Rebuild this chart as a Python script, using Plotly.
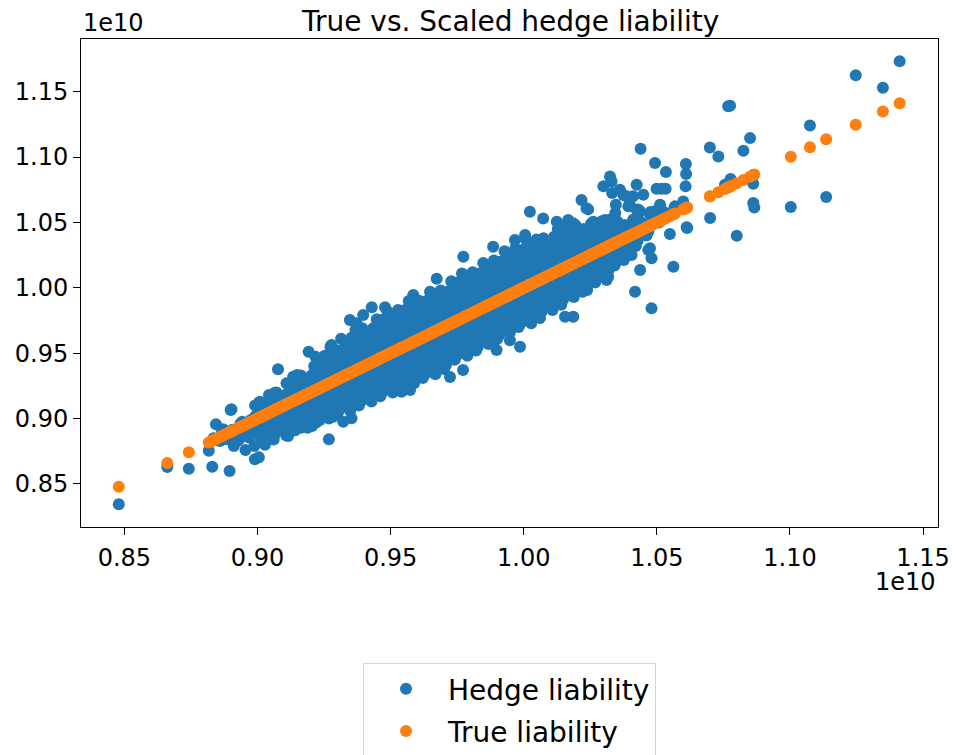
import plotly.graph_objects as go

# values are in units of 1e10 (true liability, hedge liability)
left_band = [
    (0.8835, 0.8850), (0.8858, 0.8828), (0.8866, 0.8890), (0.8888, 0.8842), (0.8906, 0.8915),
    (0.8898, 0.8870), (0.8928, 0.8832), (0.8946, 0.8905), (0.8936, 0.8960), (0.8950, 0.8865),
    (0.8968, 0.8855), (0.8980, 0.8925), (0.8975, 0.8990),
]

dense_band = [
    (0.8988, 0.879), (0.9006, 0.887), (0.8996, 0.895), (0.9011, 0.903), (0.8991, 0.910),
    (0.9028, 0.880), (0.9046, 0.888), (0.9036, 0.896), (0.9051, 0.904), (0.9031, 0.912), (0.9043, 0.918),
    (0.9068, 0.889), (0.9086, 0.897), (0.9076, 0.905), (0.9091, 0.913), (0.9071, 0.920),
    (0.9108, 0.887), (0.9126, 0.895), (0.9116, 0.903), (0.9131, 0.911), (0.9111, 0.919), (0.9123, 0.927),
    (0.9148, 0.894), (0.9166, 0.902), (0.9156, 0.910), (0.9171, 0.918), (0.9151, 0.926), (0.9163, 0.933),
    (0.9188, 0.893), (0.9206, 0.901), (0.9196, 0.909), (0.9211, 0.917), (0.9191, 0.925), (0.9203, 0.933), (0.9213, 0.940),
    (0.9228, 0.901), (0.9246, 0.909), (0.9236, 0.917), (0.9251, 0.925), (0.9231, 0.933), (0.9243, 0.941), (0.9253, 0.948),
    (0.9268, 0.900), (0.9286, 0.908), (0.9276, 0.916), (0.9291, 0.924), (0.9271, 0.932), (0.9283, 0.940), (0.9293, 0.948), (0.9274, 0.955),
    (0.9308, 0.907), (0.9326, 0.915), (0.9316, 0.923), (0.9331, 0.931), (0.9311, 0.939), (0.9323, 0.947), (0.9333, 0.955), (0.9314, 0.961),
    (0.9348, 0.906), (0.9366, 0.914), (0.9356, 0.922), (0.9371, 0.930), (0.9351, 0.938), (0.9363, 0.946), (0.9373, 0.954), (0.9354, 0.962), (0.9368, 0.968),
    (0.9388, 0.913), (0.9406, 0.921), (0.9396, 0.929), (0.9411, 0.937), (0.9391, 0.945), (0.9403, 0.953), (0.9413, 0.961), (0.9394, 0.969),
    (0.9428, 0.913), (0.9446, 0.921), (0.9436, 0.929), (0.9451, 0.937), (0.9431, 0.945), (0.9443, 0.953), (0.9453, 0.961), (0.9434, 0.969), (0.9448, 0.976),
    (0.9468, 0.920), (0.9486, 0.928), (0.9476, 0.936), (0.9491, 0.944), (0.9471, 0.952), (0.9483, 0.960), (0.9493, 0.968), (0.9474, 0.976), (0.9488, 0.982),
    (0.9508, 0.920), (0.9526, 0.928), (0.9516, 0.936), (0.9531, 0.944), (0.9511, 0.952), (0.9523, 0.960), (0.9533, 0.968), (0.9514, 0.976), (0.9528, 0.983),
    (0.9548, 0.927), (0.9566, 0.935), (0.9556, 0.943), (0.9571, 0.951), (0.9551, 0.959), (0.9563, 0.967), (0.9573, 0.975), (0.9554, 0.983), (0.9568, 0.990),
    (0.9588, 0.927), (0.9606, 0.935), (0.9596, 0.943), (0.9611, 0.951), (0.9591, 0.959), (0.9603, 0.967), (0.9613, 0.975), (0.9594, 0.983), (0.9608, 0.990),
    (0.9628, 0.934), (0.9646, 0.942), (0.9636, 0.950), (0.9651, 0.958), (0.9631, 0.966), (0.9643, 0.974), (0.9653, 0.982), (0.9634, 0.990), (0.9648, 0.997),
    (0.9668, 0.934), (0.9686, 0.942), (0.9676, 0.950), (0.9691, 0.958), (0.9671, 0.966), (0.9683, 0.974), (0.9693, 0.982), (0.9674, 0.990), (0.9688, 0.998),
    (0.9708, 0.941), (0.9726, 0.949), (0.9716, 0.957), (0.9731, 0.965), (0.9711, 0.973), (0.9723, 0.981), (0.9733, 0.989), (0.9714, 0.997), (0.9728, 1.005),
    (0.9748, 0.948), (0.9766, 0.956), (0.9756, 0.964), (0.9771, 0.972), (0.9751, 0.980), (0.9763, 0.988), (0.9773, 0.996), (0.9754, 1.004), (0.9768, 1.011),
    (0.9788, 0.948), (0.9806, 0.956), (0.9796, 0.964), (0.9811, 0.972), (0.9791, 0.980), (0.9803, 0.988), (0.9813, 0.996), (0.9794, 1.004), (0.9808, 1.012),
    (0.9828, 0.955), (0.9846, 0.963), (0.9836, 0.971), (0.9851, 0.979), (0.9831, 0.987), (0.9843, 0.995), (0.9853, 1.003), (0.9834, 1.011), (0.9848, 1.019),
    (0.9868, 0.957), (0.9886, 0.965), (0.9876, 0.973), (0.9891, 0.981), (0.9871, 0.989), (0.9883, 0.997), (0.9893, 1.005), (0.9874, 1.013), (0.9888, 1.021),
    (0.9908, 0.964), (0.9926, 0.972), (0.9916, 0.980), (0.9931, 0.988), (0.9911, 0.996), (0.9923, 1.004), (0.9933, 1.012), (0.9914, 1.020), (0.9928, 1.028),
    (0.9948, 0.966), (0.9966, 0.974), (0.9956, 0.982), (0.9971, 0.990), (0.9951, 0.998), (0.9963, 1.006), (0.9973, 1.014), (0.9954, 1.022), (0.9968, 1.030),
    (0.9988, 0.973), (1.0006, 0.981), (0.9996, 0.989), (1.0011, 0.997), (0.9991, 1.005), (1.0003, 1.013), (1.0013, 1.021), (0.9994, 1.029), (1.0008, 1.037),
    (1.0028, 0.973), (1.0046, 0.981), (1.0036, 0.989), (1.0051, 0.997), (1.0031, 1.005), (1.0043, 1.013), (1.0053, 1.021), (1.0034, 1.029), (1.0048, 1.037),
    (1.0068, 0.982), (1.0086, 0.990), (1.0076, 0.998), (1.0091, 1.006), (1.0071, 1.014), (1.0083, 1.022), (1.0093, 1.030), (1.0074, 1.038),
    (1.0108, 0.983), (1.0126, 0.991), (1.0116, 0.999), (1.0131, 1.007), (1.0111, 1.015), (1.0123, 1.023), (1.0133, 1.031), (1.0114, 1.039), (1.0128, 1.045),
    (1.0148, 0.991), (1.0166, 0.999), (1.0156, 1.007), (1.0171, 1.015), (1.0151, 1.023), (1.0163, 1.031), (1.0173, 1.039), (1.0154, 1.046),
    (1.0188, 0.993), (1.0206, 1.001), (1.0196, 1.009), (1.0211, 1.017), (1.0191, 1.025), (1.0203, 1.033), (1.0213, 1.041), (1.0194, 1.048),
    (1.0228, 1.002), (1.0246, 1.010), (1.0236, 1.018), (1.0251, 1.026), (1.0231, 1.034), (1.0243, 1.042), (1.0253, 1.049),
    (1.0268, 1.004), (1.0286, 1.012), (1.0276, 1.020), (1.0291, 1.028), (1.0271, 1.036), (1.0283, 1.044), (1.0293, 1.051),
    (1.0308, 1.013), (1.0326, 1.021), (1.0316, 1.029), (1.0331, 1.037), (1.0311, 1.045), (1.0323, 1.052),
    (1.0348, 1.020), (1.0366, 1.028), (1.0356, 1.036), (1.0371, 1.044), (1.0351, 1.051),
    (1.0388, 1.028), (1.0406, 1.036), (1.0396, 1.044), (1.0411, 1.051),
    (1.0428, 1.036), (1.0446, 1.044), (1.0436, 1.051),
    (1.0468, 1.043), (1.0486, 1.051), (1.0476, 1.058),
    (1.0508, 1.050), (1.0526, 1.058),
    (1.0548, 1.056), (1.0566, 1.061),
    (1.0605, 1.062),
]

dense_fill = [
    (0.9021, 0.883), (0.9019, 0.891), (0.9023, 0.899), (0.9018, 0.907),
    (0.9061, 0.884), (0.9058, 0.892), (0.9063, 0.900), (0.9059, 0.908), (0.9062, 0.916),
    (0.9101, 0.893), (0.9098, 0.901), (0.9103, 0.909), (0.9099, 0.917),
    (0.9141, 0.891), (0.9138, 0.899), (0.9143, 0.907), (0.9139, 0.915), (0.9142, 0.923),
    (0.9181, 0.898), (0.9178, 0.906), (0.9183, 0.914), (0.9179, 0.922), (0.9182, 0.930),
    (0.9221, 0.897), (0.9218, 0.905), (0.9223, 0.913), (0.9219, 0.921), (0.9222, 0.929), (0.9220, 0.937),
    (0.9261, 0.905), (0.9258, 0.913), (0.9263, 0.921), (0.9259, 0.929), (0.9262, 0.937), (0.9260, 0.945),
    (0.9301, 0.904), (0.9298, 0.912), (0.9303, 0.920), (0.9299, 0.928), (0.9302, 0.936), (0.9300, 0.944), (0.9304, 0.952),
    (0.9341, 0.911), (0.9338, 0.919), (0.9343, 0.927), (0.9339, 0.935), (0.9342, 0.943), (0.9340, 0.951), (0.9344, 0.959),
    (0.9381, 0.910), (0.9378, 0.918), (0.9383, 0.926), (0.9379, 0.934), (0.9382, 0.942), (0.9380, 0.950), (0.9384, 0.958), (0.9379, 0.966),
    (0.9421, 0.917), (0.9418, 0.925), (0.9423, 0.933), (0.9419, 0.941), (0.9422, 0.949), (0.9420, 0.957), (0.9424, 0.965),
    (0.9461, 0.917), (0.9458, 0.925), (0.9463, 0.933), (0.9459, 0.941), (0.9462, 0.949), (0.9460, 0.957), (0.9464, 0.965), (0.9459, 0.973),
    (0.9501, 0.924), (0.9498, 0.932), (0.9503, 0.940), (0.9499, 0.948), (0.9502, 0.956), (0.9500, 0.964), (0.9504, 0.972), (0.9499, 0.980),
    (0.9541, 0.924), (0.9538, 0.932), (0.9543, 0.940), (0.9539, 0.948), (0.9542, 0.956), (0.9540, 0.964), (0.9544, 0.972), (0.9539, 0.980),
    (0.9581, 0.931), (0.9578, 0.939), (0.9583, 0.947), (0.9579, 0.955), (0.9582, 0.963), (0.9580, 0.971), (0.9584, 0.979), (0.9579, 0.987),
    (0.9621, 0.931), (0.9618, 0.939), (0.9623, 0.947), (0.9619, 0.955), (0.9622, 0.963), (0.9620, 0.971), (0.9624, 0.979), (0.9619, 0.987),
    (0.9661, 0.938), (0.9658, 0.946), (0.9663, 0.954), (0.9659, 0.962), (0.9662, 0.970), (0.9660, 0.978), (0.9664, 0.986), (0.9659, 0.994),
    (0.9701, 0.938), (0.9698, 0.946), (0.9703, 0.954), (0.9699, 0.962), (0.9702, 0.970), (0.9700, 0.978), (0.9704, 0.986), (0.9699, 0.994),
    (0.9741, 0.945), (0.9738, 0.953), (0.9743, 0.961), (0.9739, 0.969), (0.9742, 0.977), (0.9740, 0.985), (0.9744, 0.993), (0.9739, 1.001),
    (0.9781, 0.952), (0.9778, 0.960), (0.9783, 0.968), (0.9779, 0.976), (0.9782, 0.984), (0.9780, 0.992), (0.9784, 1.000), (0.9779, 1.008),
    (0.9821, 0.952), (0.9818, 0.960), (0.9823, 0.968), (0.9819, 0.976), (0.9822, 0.984), (0.9820, 0.992), (0.9824, 1.000), (0.9819, 1.008),
    (0.9861, 0.959), (0.9858, 0.967), (0.9863, 0.975), (0.9859, 0.983), (0.9862, 0.991), (0.9860, 0.999), (0.9864, 1.007), (0.9859, 1.015),
    (0.9901, 0.961), (0.9898, 0.969), (0.9903, 0.977), (0.9899, 0.985), (0.9902, 0.993), (0.9900, 1.001), (0.9904, 1.009), (0.9899, 1.017),
    (0.9941, 0.968), (0.9938, 0.976), (0.9943, 0.984), (0.9939, 0.992), (0.9942, 1.000), (0.9940, 1.008), (0.9944, 1.016), (0.9939, 1.024),
    (0.9981, 0.970), (0.9978, 0.978), (0.9983, 0.986), (0.9979, 0.994), (0.9982, 1.002), (0.9980, 1.010), (0.9984, 1.018), (0.9979, 1.026),
    (1.0021, 0.977), (1.0018, 0.985), (1.0023, 0.993), (1.0019, 1.001), (1.0022, 1.009), (1.0020, 1.017), (1.0024, 1.025), (1.0019, 1.033),
    (1.0061, 0.977), (1.0058, 0.985), (1.0063, 0.993), (1.0059, 1.001), (1.0062, 1.009), (1.0060, 1.017), (1.0064, 1.025), (1.0059, 1.033),
    (1.0101, 0.986), (1.0098, 0.994), (1.0103, 1.002), (1.0099, 1.010), (1.0102, 1.018), (1.0100, 1.026), (1.0104, 1.034),
    (1.0141, 0.987), (1.0138, 0.995), (1.0143, 1.003), (1.0139, 1.011), (1.0142, 1.019), (1.0140, 1.027), (1.0144, 1.035), (1.0139, 1.042),
    (1.0181, 0.995), (1.0178, 1.003), (1.0183, 1.011), (1.0179, 1.019), (1.0182, 1.027), (1.0180, 1.035), (1.0184, 1.043),
    (1.0221, 0.997), (1.0218, 1.005), (1.0223, 1.013), (1.0219, 1.021), (1.0222, 1.029), (1.0220, 1.037), (1.0224, 1.045),
    (1.0261, 1.006), (1.0258, 1.014), (1.0263, 1.022), (1.0259, 1.030), (1.0262, 1.038), (1.0260, 1.046),
    (1.0301, 1.008), (1.0298, 1.016), (1.0303, 1.024), (1.0299, 1.032), (1.0302, 1.040), (1.0300, 1.048),
    (1.0341, 1.017), (1.0338, 1.025), (1.0343, 1.033), (1.0339, 1.041), (1.0342, 1.049),
    (1.0381, 1.024), (1.0378, 1.032), (1.0383, 1.040), (1.0379, 1.048),
    (1.0421, 1.032), (1.0418, 1.040), (1.0423, 1.048),
    (1.0461, 1.040), (1.0458, 1.048),
]

upper_spread = [
    (0.8844, 0.8956), (0.8871, 0.8918), (0.8899, 0.9066), (0.8902, 0.9072), (0.8943, 0.8976),
    (0.8993, 0.9020), (0.9005, 0.9122), (0.9009, 0.9129), (0.9065, 0.9198), (0.9077, 0.9377),
    (0.9109, 0.9270), (0.9134, 0.9320), (0.9149, 0.9333), (0.9192, 0.9511), (0.9209, 0.9333),
    (0.9218, 0.9473), (0.9234, 0.9397), (0.9260, 0.9423), (0.9278, 0.9563), (0.9295, 0.9494),
    (0.9328, 0.9588), (0.9385, 0.9588), (0.9347, 0.9754), (0.9372, 0.9729), (0.9397, 0.9792),
    (0.9429, 0.9851), (0.9479, 0.9851), (0.9585, 0.9945), (0.9598, 0.9907), (0.9673, 1.0070),
    (0.9729, 1.0047), (0.9786, 1.0085), (0.9773, 1.0238), (0.9885, 1.0314), (0.9967, 1.0365),
    (1.0005, 1.0404), (1.0023, 1.0582), (1.0073, 1.0531), (1.0124, 1.0505), (1.0167, 1.0518),
    (1.0186, 1.0493), (1.0217, 1.0671), (1.0236, 1.0608), (1.0242, 1.0600), (1.0261, 1.0505),
    (1.0305, 1.0518), (1.0299, 1.0776), (1.0324, 1.0852), (1.0330, 1.0814), (1.0332, 1.0725),
    (1.0361, 1.0750), (1.0386, 1.0700), (1.0411, 1.0700), (1.0424, 1.0788), (1.0439, 1.1063),
    (1.0449, 1.0712), (1.0493, 1.0954), (1.0534, 1.0885), (1.0499, 1.0758), (1.0518, 1.0758),
    (1.0533, 1.0758), (1.0346, 1.0635), (1.0344, 1.0572), (1.0374, 1.0710), (1.0393, 1.0623),
    (1.0399, 1.0633), (1.0424, 1.0597), (1.0430, 1.0600), (1.0437, 1.0585), (1.0411, 1.0521),
    (1.0474, 1.0559), (1.0493, 1.0585), (1.0512, 1.0635), (1.0568, 1.0623), (1.0599, 1.0661),
    (1.0609, 1.0947), (1.0610, 1.0870), (1.0608, 1.0776), (1.0300, 1.0500), (1.0320, 1.0480),
    (1.0350, 1.0470),
]

lower_spread = [
    (0.8817, 0.8755), (0.8830, 0.8632), (0.8874, 0.8844), (0.8895, 0.8600), (0.8911, 0.8790),
    (0.8931, 0.8888), (0.8955, 0.8760), (0.8990, 0.8689), (0.9005, 0.8704), (0.9034, 0.8964),
    (0.9042, 0.8849), (0.9059, 0.8913), (0.9084, 0.8913), (0.9109, 0.8938), (0.9115, 0.8867),
    (0.9134, 0.8989), (0.9163, 0.8930), (0.9205, 0.8943), (0.9234, 0.8989), (0.9260, 0.9040),
    (0.9268, 0.8842), (0.9284, 0.9015), (0.9322, 0.8976), (0.9353, 0.9002), (0.9441, 0.9180),
    (0.9541, 0.9206), (0.9573, 0.9219), (0.9622, 0.9372), (0.9654, 0.9372), (0.9723, 0.9318),
    (0.9772, 0.9372), (0.9748, 0.9550), (0.9885, 0.9576), (0.9885, 0.9664), (0.9898, 0.9524),
    (0.9948, 0.9600), (0.9948, 0.9677), (0.9986, 0.9550), (1.0155, 0.9779), (1.0186, 0.9779),
    (1.0199, 0.9970), (1.0230, 0.9983), (1.0236, 1.0060), (1.0238, 0.9983), (1.0280, 1.0111),
    (1.0286, 1.0123), (1.0311, 1.0060), (1.0317, 1.0085), (1.0319, 1.0136), (1.0336, 1.0226),
    (1.0374, 1.0226), (1.0376, 1.0213), (1.0405, 1.0251), (1.0468, 1.0289), (1.0474, 1.0302),
    (1.0480, 1.0226), (1.0437, 1.0136), (1.0418, 0.9970), (1.0480, 0.9843), (1.0549, 1.0411),
    (1.0562, 1.0161), (1.0612, 1.0463), (1.0614, 1.0457),
]

tail_points = [
    (0.8479, 0.8345), (0.8661, 0.8630), (0.8742, 0.8617),
    (1.0699, 1.1073), (1.0700, 1.0534), (1.0731, 1.1005), (1.0756, 1.0788), (1.0768, 1.1388),
    (1.0775, 1.1392), (1.0777, 1.0832), (1.0800, 1.0398), (1.0825, 1.1048), (1.0850, 1.1145),
    (1.0862, 1.0796), (1.0862, 1.0648), (1.0866, 1.0615),
    (1.1003, 1.0618), (1.1075, 1.1242), (1.1136, 1.0694), (1.1247, 1.1625), (1.1349, 1.1530),
    (1.1412, 1.1732),
]

samples = left_band + dense_band + dense_fill + upper_spread + lower_spread + tail_points
true_liability = [p[0] for p in samples]
hedge_liability = [p[1] for p in samples]

tick_values = [0.85, 0.90, 0.95, 1.00, 1.05, 1.10, 1.15]
tick_labels = ["0.85", "0.90", "0.95", "1.00", "1.05", "1.10", "1.15"]

FONT = "DejaVu Sans"
BLUE = "#1f77b4"
ORANGE = "#ff7f0e"

fig = go.Figure()
fig.add_trace(go.Scatter(
    x=true_liability, y=hedge_liability, mode="markers", name="Hedge liability",
    legendgroup="hedge",
    marker=dict(color=BLUE, size=12, line=dict(width=0)),
))
fig.add_trace(go.Scatter(
    x=true_liability, y=true_liability, mode="markers", name="True liability",
    legendgroup="true",
    marker=dict(color=ORANGE, size=12, line=dict(width=0)),
))

axis_common = dict(
    showline=True, linecolor="black", linewidth=1, mirror=True,
    ticks="outside", ticklen=7, tickwidth=1, tickcolor="black",
    showgrid=False, zeroline=False, automargin=False,
    tickfont=dict(family=FONT, size=24, color="black"),
    tickvals=tick_values, ticktext=tick_labels,
)

fig.update_layout(
    width=957, height=755, autosize=False,
    margin=dict(l=81, r=19, t=39, b=228, autoexpand=False),
    paper_bgcolor="white", plot_bgcolor="white",
    font=dict(family=FONT, color="black"),
    xaxis=dict(range=[0.8337, 1.1556], ticklabelstandoff=2, **axis_common),
    yaxis=dict(range=[0.8171, 1.1903], **axis_common),
    showlegend=True,
    legend=dict(
        x=0.5, xanchor="center", y=-0.2787, yanchor="top",
        font=dict(family=FONT, size=28, color="black"),
        bordercolor="#d6d6d6", borderwidth=1, bgcolor="white",
        itemwidth=74, traceorder="grouped", tracegroupgap=3,
    ),
    annotations=[
        dict(text="True vs. Scaled hedge liability", xref="paper", yref="paper",
             x=0.5, y=1, xanchor="center", yanchor="bottom", yshift=-1,
             showarrow=False, font=dict(family=FONT, size=28, color="black")),
        dict(text="1e10", xref="paper", yref="paper", x=0, y=1,
             xanchor="left", yanchor="bottom", showarrow=False,
             font=dict(family=FONT, size=24, color="black")),
        dict(text="1e10", xref="paper", yref="paper", x=1, y=-0.08,
             xanchor="right", yanchor="top", showarrow=False,
             font=dict(family=FONT, size=24, color="black")),
    ],
)

fig.write_html("out.html")
